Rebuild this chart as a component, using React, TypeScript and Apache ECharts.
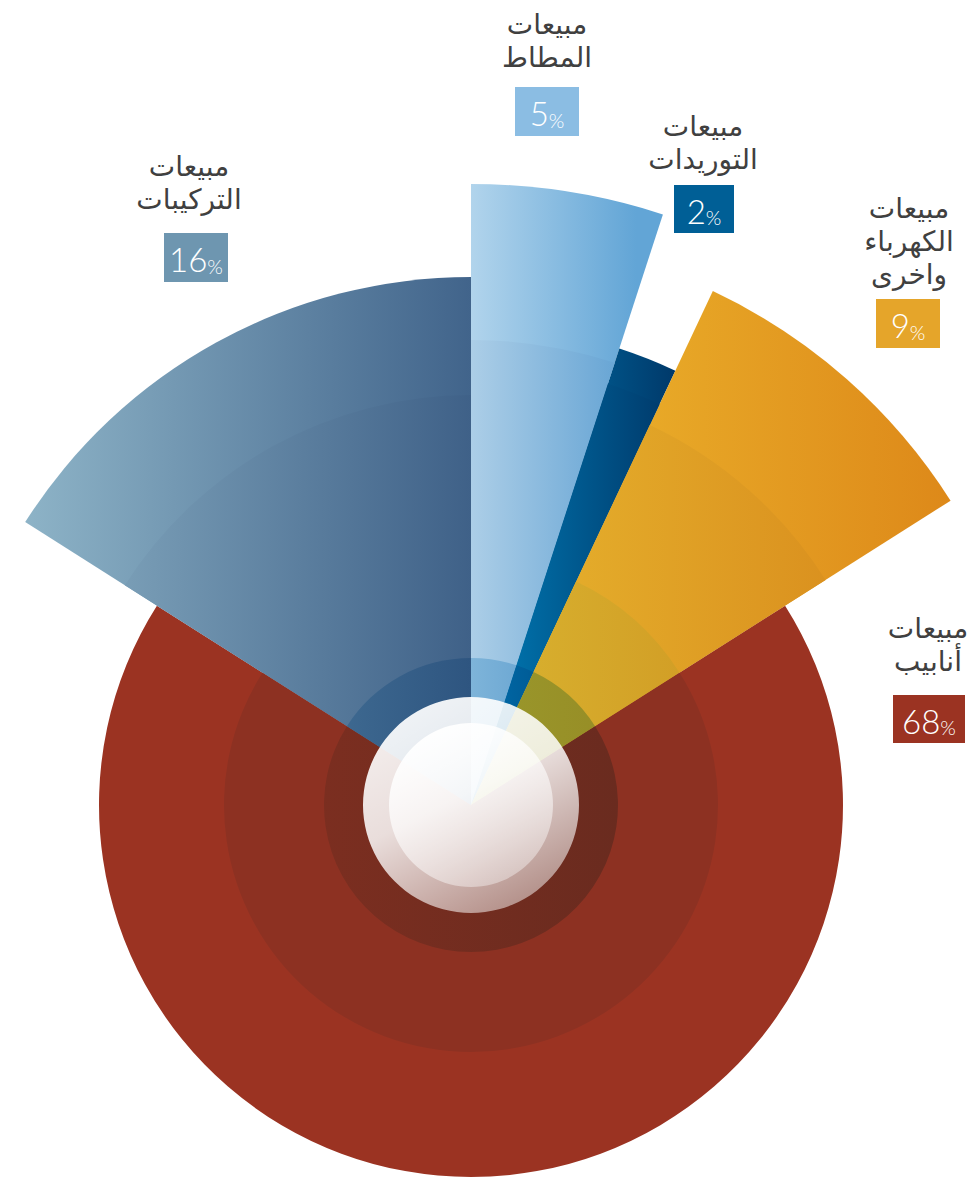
import React, { useEffect, useRef } from "react";
import * as echarts from "echarts";

// ---------- data ----------
const categories = ["مبيعات المطاط", "مبيعات التوريدات", "مبيعات الكهرباء واخرى", "مبيعات أنابيب", "مبيعات التركيبات"];
const labelLines = [["مبيعات", "المطاط"], ["مبيعات", "التوريدات"], ["مبيعات", "الكهرباء", "واخرى"], ["مبيعات", "أنابيب"], ["مبيعات", "التركيبات"]];
const shares = [5, 2, 9, 68, 16];
const percentTexts = ["5", "2", "9", "68", "16"];

// ---------- style / layout ----------
const CX = 471;
const CY = 805;
const OUTER_R = [621, 480, 568, 372, 528];
const BAND_R = [465, 443, 420, 0, 410];
const RING1_R = 247;
const RING1_ON = [false, false, true, true, false];
const RING2_R = 147;
const DISC1_R = 108;
const DISC2_R = 82;

const GRAD_STOPS = [
  ["#b1d4ec", "#62a5d6"],
  ["#0082bd", "#003a6b"],
  ["#eebc30", "#dd8819"],
  ["#9b3322", "#9b3322"],
  ["#90b6c9", "#41648b"],
];
const GRAD_X = [
  [471, 636],
  [471, 673],
  [471, 957],
  [100, 843],
  [10, 471],
];
const BAND_F = [0.97, 0.97, 0.98];
const M1 = [0.91, 0.96, 1.0];
const M2 = [0.71, 0.85, 0.92];
const BOX_COLORS = ["#8bbde3", "#005f96", "#e5a52a", "#9b3322", "#6e96b0"];
const LABEL_POS = [
  [547, 24],
  [703, 126],
  [909, 208],
  [928, 628],
  [189, 166],
];
const BOX_RECT = [
  [515, 87, 64, 49],
  [674, 185, 60, 48],
  [876, 299, 64, 49],
  [893, 695, 72, 48],
  [164, 233, 64, 49],
];
const LINE_H = 33;

function mulHex(hex: string, f: number[]): string {
  const n = parseInt(hex.slice(1), 16);
  const r = Math.round(((n >> 16) & 255) * f[0]);
  const g = Math.round(((n >> 8) & 255) * f[1]);
  const b = Math.round((n & 255) * f[2]);
  return `rgb(${r},${g},${b})`;
}
function mulF(a: number[], b: number[]) {
  return [a[0] * b[0], a[1] * b[1], a[2] * b[2]];
}
function sliceFill(i: number, f: number[] = [1, 1, 1]) {
  const s = GRAD_STOPS[i];
  return {
    type: "linear",
    x: GRAD_X[i][0],
    y: 0,
    x2: GRAD_X[i][1],
    y2: 0,
    global: true,
    colorStops: [
      { offset: 0, color: mulHex(s[0], f) },
      { offset: 1, color: mulHex(s[1], f) },
    ],
  };
}

const pieBase = {
  type: "pie",
  silent: true,
  center: [CX, CY],
  startAngle: 90,
  clockwise: true,
  avoidLabelOverlap: false,
  label: { show: false },
  labelLine: { show: false },
  emphasis: { disabled: true },
  itemStyle: { borderWidth: 0 },
};

export default function App() {
  const ref = useRef<HTMLDivElement>(null);
  useEffect(() => {
    if (!ref.current) return;
    const chart = echarts.init(ref.current, undefined, { renderer: "svg" });
    let z = 1;
    const series: any[] = [];
    // outer slices
    shares.forEach((_, i) => {
      series.push({
        ...pieBase,
        z: z++,
        radius: [0, OUTER_R[i]],
        data: shares.map((v, j) => ({
          value: v,
          name: categories[j],
          itemStyle: { color: j === i ? sliceFill(i) : "rgba(0,0,0,0)" },
        })),
      });
    });
    // per-slice inner band
    shares.forEach((_, i) => {
      if (!BAND_R[i]) return;
      series.push({
        ...pieBase,
        z: z++,
        radius: [0, BAND_R[i]],
        data: shares.map((v, j) => ({
          value: v,
          name: categories[j],
          itemStyle: { color: j === i ? sliceFill(i, BAND_F) : "rgba(0,0,0,0)" },
        })),
      });
    });
    // common ring 1
    series.push({
      ...pieBase,
      z: z++,
      radius: [0, RING1_R],
      data: shares.map((v, j) => ({
        value: v,
        name: categories[j],
        itemStyle: { color: RING1_ON[j] ? sliceFill(j, M1) : "rgba(0,0,0,0)" },
      })),
    });
    // common ring 2
    series.push({
      ...pieBase,
      z: z++,
      radius: [0, RING2_R],
      data: shares.map((v, j) => {
        const base = RING1_ON[j] ? M1 : [1, 1, 1];
        return {
          value: v,
          name: categories[j],
          itemStyle: {
            color:
              j === 3
                ? {
                    type: "linear", x: CX - RING2_R, y: 0, x2: CX + RING2_R, y2: 0, global: true,
                    colorStops: [
                      { offset: 0, color: mulHex(GRAD_STOPS[3][0], mulF(base, [0.87, 0.94, 0.94])) },
                      { offset: 1, color: mulHex(GRAD_STOPS[3][1], mulF(base, [0.75, 0.87, 0.91])) },
                    ],
                  }
                : sliceFill(j, mulF(base, M2)),
          },
        };
      }),
    });
    // white discs
    series.push({
      ...pieBase,
      z: z++,
      radius: [0, DISC1_R],
      data: [
        {
          value: 1,
          name: "disc",
          itemStyle: {
            color: {
              type: "linear", x: 0.25, y: 0, x2: 0.75, y2: 1,
              colorStops: [
                { offset: 0, color: "rgba(255,255,255,0.93)" },
                { offset: 0.45, color: "rgba(255,255,255,0.84)" },
                { offset: 1, color: "rgba(255,255,255,0.45)" },
              ],
            },
          },
        },
      ],
    });
    series.push({
      ...pieBase,
      z: z++,
      radius: [0, DISC2_R],
      data: [
        {
          value: 1,
          name: "disc2",
          itemStyle: {
            color: {
              type: "linear", x: 0.25, y: 0, x2: 0.75, y2: 1,
              colorStops: [
                { offset: 0, color: "rgba(255,255,255,1)" },
                { offset: 0.5, color: "rgba(255,255,255,0.6)" },
                { offset: 1, color: "rgba(255,255,255,0.35)" },
              ],
            },
          },
        },
      ],
    });

    const graphics: any[] = [];
    labelLines.forEach((lines, i) => {
      graphics.push({
        type: "text",
        x: LABEL_POS[i][0],
        y: LABEL_POS[i][1] - LINE_H / 2,
        z: 100,
        style: {
          text: lines.join("\n"),
          align: "center",
          verticalAlign: "top",
          fontFamily: "DejaVu Sans",
          fontSize: 28,
          lineHeight: LINE_H,
          fill: "#404040",
        },
      });
      const [bx, by, bw, bh] = BOX_RECT[i];
      graphics.push({
        type: "rect",
        z: 100,
        shape: { x: bx, y: by, width: bw, height: bh },
        style: { fill: BOX_COLORS[i] },
      });
      graphics.push({
        type: "text",
        z: 101,
        x: bx + bw / 2,
        y: by + bh / 2 + 1,
        style: {
          text: `{n|${percentTexts[i]}}{p|%}`,
          align: "center",
          verticalAlign: "middle",
          rich: {
            n: { fontFamily: "Lato", fontWeight: 300, fontSize: 33, fill: "#ffffff", lineHeight: 34, verticalAlign: "bottom" },
            p: { fontFamily: "Lato", fontWeight: 300, fontSize: 20, fill: "#ffffff", lineHeight: 30, verticalAlign: "bottom" },
          },
        },
      });
    });

    chart.setOption({
      animation: false,
      backgroundColor: "#ffffff",
      series,
      graphic: { elements: graphics },
    });
    return () => chart.dispose();
  }, []);
  return <div ref={ref} style={{ position: "absolute", left: 0, top: 0, width: 976, height: 1178 }} />;
}
